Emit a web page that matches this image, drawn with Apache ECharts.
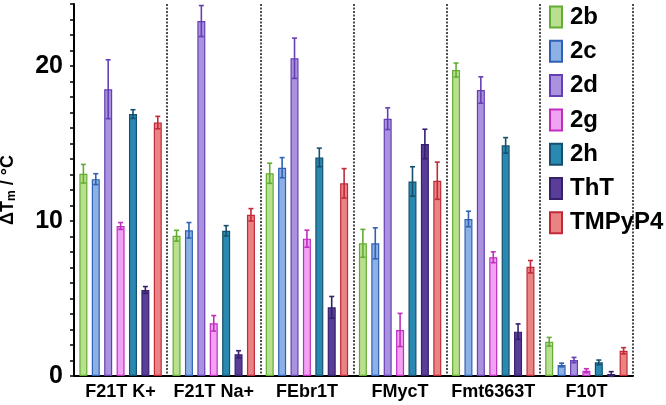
<!DOCTYPE html>
<html><head><meta charset="utf-8">
<script src="https://cdn.jsdelivr.net/npm/echarts@6/dist/echarts.min.js"></script>
<style>html,body{margin:0;padding:0;background:#fff}#c{width:666px;height:405px}</style>
</head><body><div id="c"></div>
<script>
var categories = ['F21T K+', 'F21T Na+', 'FEbr1T', 'FMycT', 'Fmt6363T', 'F10T'];
var seriesNames = ['2b', '2c', '2d', '2g', '2h', 'ThT', 'TMPyP4'];
var v2b = [13.05, 9.05, 13.08, 8.56, 19.74, 2.21];
var e2b = [0.6, 0.35, 0.65, 0.9, 0.45, 0.28];
var v2c = [12.7, 9.4, 13.44, 8.56, 10.13, 0.71];
var e2c = [0.35, 0.5, 0.65, 1.0, 0.5, 0.12];
var v2d = [18.5, 22.9, 20.5, 16.6, 18.45, 1.03];
var e2d = [1.9, 1.0, 1.3, 0.7, 0.85, 0.17];
var v2g = [9.68, 3.4, 8.86, 2.97, 7.66, 0.34];
var e2g = [0.22, 0.5, 0.55, 1.07, 0.35, 0.13];
var v2h = [16.9, 9.37, 14.1, 12.55, 14.88, 0.88];
var e2h = [0.28, 0.33, 0.6, 0.95, 0.5, 0.15];
var vThT = [5.55, 1.4, 4.43, 14.97, 2.86, 0.13];
var eThT = [0.22, 0.23, 0.7, 0.95, 0.5, 0.15];
var vTMP = [16.35, 10.4, 12.43, 12.6, 7.05, 1.63];
var eTMP = [0.4, 0.4, 0.95, 1.2, 0.4, 0.2];
var yTicks = [0, 10, 20];

var values = [v2b, v2c, v2d, v2g, v2h, vThT, vTMP];
var errors = [e2b, e2c, e2d, e2g, e2h, eThT, eTMP];
var fills = ['#b9e08e', '#8db1e4', '#aa92de', '#f2a2f2', '#2a89b0', '#5a3d98', '#e98384'];
var borders = ['#64ac34', '#2f62b4', '#6440b4', '#c02ec0', '#17506e', '#35206c', '#c22a3a'];

var BW = 8, GAP = 4.4;
var FONT = '"Liberation Sans", Arial, Helvetica, sans-serif';
var chart = echarts.init(document.getElementById('c'), null, {renderer: 'canvas'});
var series = [];
seriesNames.forEach(function (n, i) {
  series.push({
    name: n, type: 'bar', xAxisIndex: 0, barWidth: BW, barGap: (GAP / BW * 100) + '%',
    data: values[i],
    itemStyle: {color: fills[i], borderColor: borders[i], borderWidth: 1.2},
    emphasis: {disabled: true}
  });
});
seriesNames.forEach(function (n, i) {
  series.push({
    name: n + ' err', type: 'custom', xAxisIndex: 0, z: 5,
    data: values[i].map(function (v, k) { return [k, v, errors[i][k]]; }),
    renderItem: function (params, api) {
      var off = (i - 3) * (BW + GAP);
      var lo = api.coord([api.value(0), api.value(1) - api.value(2)]);
      var hi = api.coord([api.value(0), api.value(1) + api.value(2)]);
      var x = lo[0] + off;
      var st = {stroke: borders[i], lineWidth: 1.6};
      return {type: 'group', children: [
        {type: 'line', shape: {x1: x, y1: lo[1], x2: x, y2: hi[1]}, style: st},
        {type: 'line', shape: {x1: x - 2.5, y1: hi[1], x2: x + 2.5, y2: hi[1]}, style: st},
        {type: 'line', shape: {x1: x - 2.5, y1: lo[1], x2: x + 2.5, y2: lo[1]}, style: st}
      ]};
    }
  });
});

chart.setOption({
  animation: false,
  textStyle: {fontFamily: FONT},
  grid: {left: 74, right: 33, top: 4, bottom: 29, containLabel: false, outerBoundsMode: 'none'},
  legend: {
    data: seriesNames, orient: 'vertical', left: 549, top: 5, padding: 0, icon: 'rect',
    itemWidth: 12, itemHeight: 21, itemGap: 10.3, selectedMode: false,
    textStyle: {fontSize: 24, fontWeight: 'bold', color: '#000', fontFamily: FONT, lineHeight: 21, padding: [0, 0, 0, 3]}
  },
  xAxis: [{
    type: 'category', data: categories, boundaryGap: true,
    axisLine: {lineStyle: {color: '#000', width: 2}},
    axisTick: {alignWithLabel: true, length: 5, lineStyle: {color: '#000', width: 2}},
    axisLabel: {fontSize: 18, fontWeight: 'bold', color: '#000', margin: 7, interval: 0},
    splitLine: {show: false}
  }, {
    type: 'category', data: categories, boundaryGap: true, position: 'bottom',
    axisLine: {show: false}, axisTick: {show: false}, axisLabel: {show: false},
    splitLine: {show: true, interval: function (i) { return i > 0; },
      lineStyle: {color: '#222', width: 1.6, type: [2, 1.5]}}
  }],
  yAxis: {
    type: 'value', min: 0, max: 24, interval: 1,
    name: '{a|ΔT}{s|m}{a| / °C}', nameLocation: 'middle', nameGap: 56, nameRotate: 90,
    nameTextStyle: {rich: {
      a: {fontSize: 18, fontWeight: 'bold', color: '#000', fontFamily: FONT},
      s: {fontSize: 12, fontWeight: 'bold', color: '#000', fontFamily: FONT, verticalAlign: 'bottom', padding: [7, 0, 0, 0]}
    }},
    axisLine: {show: true, lineStyle: {color: '#000', width: 2}},
    axisTick: {show: true, length: 4, lineStyle: {color: '#000', width: 1.5}},
    axisLabel: {fontSize: 25, fontWeight: 'bold', color: '#000', margin: 11,
      formatter: function (v) { return yTicks.indexOf(v) >= 0 ? String(v) : ''; }},
    splitLine: {show: false}
  },
  series: series
});
</script></body></html>
